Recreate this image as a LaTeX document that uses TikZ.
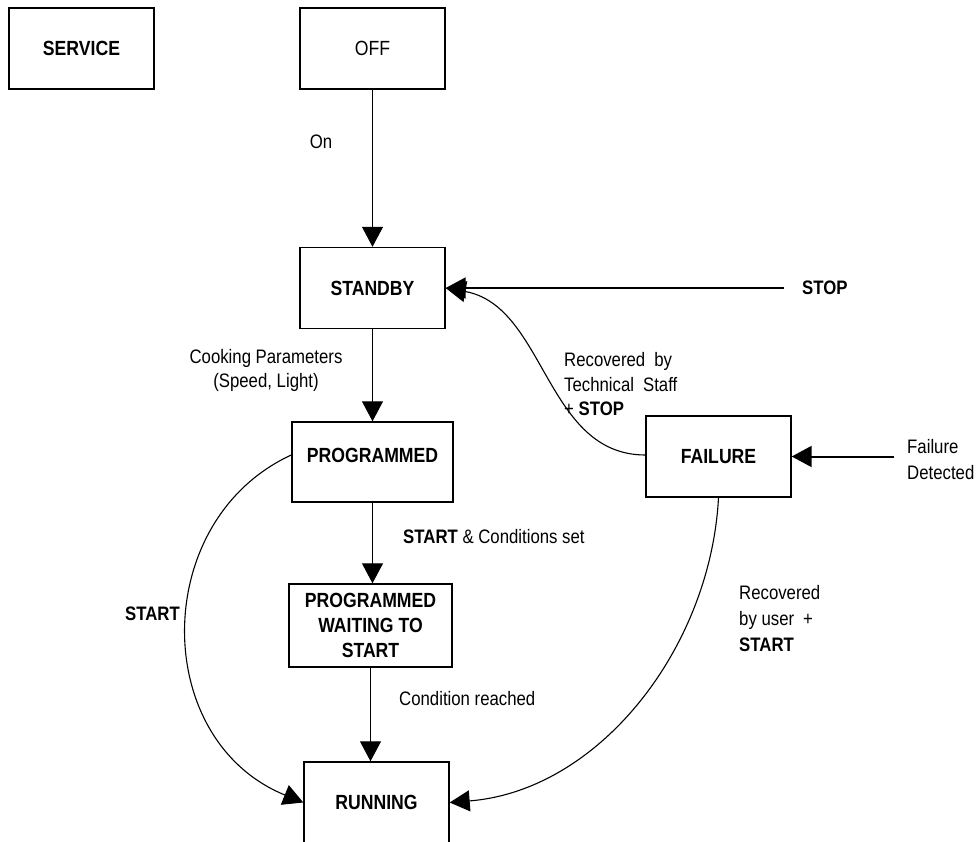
\documentclass[tikz,border=0pt]{standalone}
\usepackage{fontspec}
\setmainfont{Liberation Sans}[FakeStretch=0.86]
\usetikzlibrary{arrows.meta}

\begin{document}
\begin{tikzpicture}[x=1pt,y=-1pt,
  state/.style={draw, line width=1.4pt, minimum width=145pt, minimum height=81pt,
    inner sep=0pt, align=center, font=\fontsize{20.5}{25}\selectfont\bfseries},
  plainstate/.style={state, font=\fontsize{20.5}{25}\selectfont},
  lbl/.style={inner sep=0pt, font=\fontsize{19.5}{24.5}\selectfont},
  boldlbl/.style={lbl, font=\fontsize{19.5}{24.5}\selectfont\bfseries},
  tip/.style={-{Triangle[length=20pt,width=21pt]}},
  trans/.style={tip, line width=1.1pt},
  event/.style={tip, line width=2pt}]

  % canvas
  \fill[white] (0,0) rectangle (977,842);
  \useasboundingbox (0,0) rectangle (977,842);

  % states
  \node[state]      (service)    at (81.5,48.5)  {SERVICE};
  \node[plainstate] (off)        at (372.5,48.5) {OFF};
  \node[state]      (standby)    at (372.5,288)  {STANDBY};
  \node[state, minimum width=161pt, minimum height=80pt,
        text height=15pt, text depth=15pt]
                    (programmed) at (372.5,462)  {PROGRAMMED};
  \node[state, minimum width=163pt, minimum height=83pt]
                    (waiting)    at (370.5,625.5) {PROGRAMMED\\WAITING TO\\START};
  \node[state]      (running)    at (376.5,802.5) {RUNNING};
  \node[state]      (failure)    at (718.5,456.5) {FAILURE};

  % external events
  \node[boldlbl, anchor=west] (stopev) at (802,288) {STOP};
  \coordinate (stopsrc) at (784,288);
  \node[lbl, anchor=west, align=left, font=\fontsize{19.5}{26}\selectfont]
        (failev) at (907,460) {Failure\\Detected};
  \coordinate (failsrc) at (894,456.5);

  % transitions
  \draw[trans] (off.south) -- (standby.north);
  \draw[trans] (standby.south) -- (programmed.north);
  \draw[trans] (programmed.south) -- (programmed.south |- waiting.north);
  \draw[trans] (waiting.south) -- (waiting.south |- running.north);
  \draw[trans] ([yshift=7pt]programmed.west)
      .. controls (150,520) and (150,740) .. (running.west);
  \draw[trans] (failure.south)
      .. controls +(-8,150) and +(150,-12) .. (running.east);
  \draw[trans] ([yshift=1.5pt]failure.west)
      .. controls +(-100,0) and +(100,18) .. (standby.east);
  \draw[event] (stopsrc) -- (standby.east);
  \draw[event] (failsrc) -- (failure.east);

  % transition labels
  \node[lbl] (lon) at (321,142) {On};
  \node[lbl, align=center] (lcook) at (266,370.5)
        {Cooking Parameters\\(Speed, Light)};
  \node[lbl, anchor=west, align=left] (ltech) at (564,384.5)
        {Recovered\hspace{9pt}by\\Technical\hspace{9pt}Staff\\+ \textbf{STOP}};
  \node[lbl, anchor=west] (lcond) at (403,537)
        {\textbf{START} \& Conditions set};
  \node[lbl, anchor=west] (lreach) at (399,699) {Condition reached};
  \node[boldlbl] (lstart) at (152.5,614) {START};
  \node[lbl, anchor=west, align=left, font=\fontsize{19.5}{26}\selectfont]
        (luser) at (739,618.5) {Recovered\\by user\hspace{9pt}+\\\textbf{START}};
\end{tikzpicture}
\end{document}
